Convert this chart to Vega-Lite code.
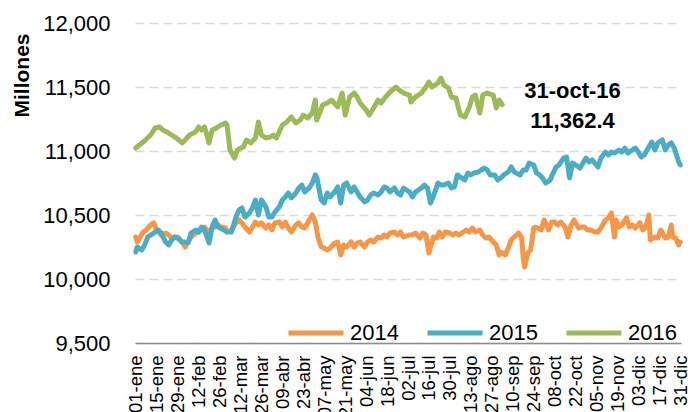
{
"$schema": "https://vega.github.io/schema/vega-lite/v6.json",
"width": 546, "height": 320,
"autosize": {"type": "none"},
"padding": {"left": 135, "top": 23, "right": 10, "bottom": 69},
"background": "white",
"config": {"view": {"stroke": null}, "font": "Liberation Sans", "axis": {"labelOverlap": false, "labelFlush": false, "labelBound": false}},
"layer": [
{
"data": {"values": [
{"serie":"2014","dia":0,"valor":10328},{"serie":"2014","dia":1,"valor":10289},{"serie":"2014","dia":3,"valor":10328},{"serie":"2014","dia":5,"valor":10367},{"serie":"2014","dia":7,"valor":10383},{"serie":"2014","dia":10,"valor":10422},{"serie":"2014","dia":12,"valor":10438},{"serie":"2014","dia":14,"valor":10383},{"serie":"2014","dia":17,"valor":10344},{"serie":"2014","dia":20,"valor":10359},{"serie":"2014","dia":22,"valor":10344},{"serie":"2014","dia":24,"valor":10320},{"serie":"2014","dia":26,"valor":10328},{"serie":"2014","dia":28,"valor":10328},{"serie":"2014","dia":31,"valor":10289},{"serie":"2014","dia":33,"valor":10250},{"serie":"2014","dia":35,"valor":10289},{"serie":"2014","dia":37,"valor":10328},{"serie":"2014","dia":40,"valor":10359},{"serie":"2014","dia":42,"valor":10367},{"serie":"2014","dia":44,"valor":10383},{"serie":"2014","dia":46,"valor":10406},{"serie":"2014","dia":49,"valor":10359},{"serie":"2014","dia":51,"valor":10398},{"serie":"2014","dia":53,"valor":10406},{"serie":"2014","dia":55,"valor":10422},{"serie":"2014","dia":57,"valor":10406},{"serie":"2014","dia":60,"valor":10398},{"serie":"2014","dia":61,"valor":10367},{"serie":"2014","dia":64,"valor":10383},{"serie":"2014","dia":67,"valor":10438},{"serie":"2014","dia":69,"valor":10461},{"serie":"2014","dia":71,"valor":10438},{"serie":"2014","dia":73,"valor":10406},{"serie":"2014","dia":76,"valor":10367},{"serie":"2014","dia":78,"valor":10406},{"serie":"2014","dia":80,"valor":10445},{"serie":"2014","dia":82,"valor":10422},{"serie":"2014","dia":84,"valor":10438},{"serie":"2014","dia":87,"valor":10398},{"serie":"2014","dia":89,"valor":10422},{"serie":"2014","dia":91,"valor":10383},{"serie":"2014","dia":93,"valor":10438},{"serie":"2014","dia":96,"valor":10445},{"serie":"2014","dia":98,"valor":10406},{"serie":"2014","dia":100,"valor":10445},{"serie":"2014","dia":102,"valor":10398},{"serie":"2014","dia":104,"valor":10367},{"serie":"2014","dia":107,"valor":10422},{"serie":"2014","dia":109,"valor":10438},{"serie":"2014","dia":111,"valor":10406},{"serie":"2014","dia":113,"valor":10398},{"serie":"2014","dia":116,"valor":10461},{"serie":"2014","dia":118,"valor":10500},{"serie":"2014","dia":120,"valor":10445},{"serie":"2014","dia":122,"valor":10320},{"serie":"2014","dia":124,"valor":10250},{"serie":"2014","dia":126,"valor":10242},{"serie":"2014","dia":128,"valor":10227},{"serie":"2014","dia":130,"valor":10242},{"serie":"2014","dia":133,"valor":10281},{"serie":"2014","dia":135,"valor":10289},{"serie":"2014","dia":137,"valor":10188},{"serie":"2014","dia":139,"valor":10266},{"serie":"2014","dia":141,"valor":10250},{"serie":"2014","dia":144,"valor":10289},{"serie":"2014","dia":146,"valor":10250},{"serie":"2014","dia":148,"valor":10281},{"serie":"2014","dia":150,"valor":10289},{"serie":"2014","dia":153,"valor":10250},{"serie":"2014","dia":155,"valor":10289},{"serie":"2014","dia":157,"valor":10305},{"serie":"2014","dia":159,"valor":10289},{"serie":"2014","dia":162,"valor":10328},{"serie":"2014","dia":164,"valor":10320},{"serie":"2014","dia":166,"valor":10344},{"serie":"2014","dia":168,"valor":10328},{"serie":"2014","dia":170,"valor":10359},{"serie":"2014","dia":173,"valor":10367},{"serie":"2014","dia":175,"valor":10344},{"serie":"2014","dia":177,"valor":10367},{"serie":"2014","dia":179,"valor":10328},{"serie":"2014","dia":183,"valor":10344},{"serie":"2014","dia":185,"valor":10344},{"serie":"2014","dia":187,"valor":10359},{"serie":"2014","dia":190,"valor":10320},{"serie":"2014","dia":192,"valor":10359},{"serie":"2014","dia":194,"valor":10344},{"serie":"2014","dia":196,"valor":10203},{"serie":"2014","dia":199,"valor":10328},{"serie":"2014","dia":201,"valor":10320},{"serie":"2014","dia":203,"valor":10367},{"serie":"2014","dia":205,"valor":10328},{"serie":"2014","dia":207,"valor":10367},{"serie":"2014","dia":210,"valor":10359},{"serie":"2014","dia":212,"valor":10344},{"serie":"2014","dia":214,"valor":10359},{"serie":"2014","dia":216,"valor":10344},{"serie":"2014","dia":219,"valor":10367},{"serie":"2014","dia":221,"valor":10383},{"serie":"2014","dia":223,"valor":10367},{"serie":"2014","dia":225,"valor":10398},{"serie":"2014","dia":227,"valor":10367},{"serie":"2014","dia":230,"valor":10383},{"serie":"2014","dia":232,"valor":10344},{"serie":"2014","dia":234,"valor":10320},{"serie":"2014","dia":236,"valor":10328},{"serie":"2014","dia":239,"valor":10289},{"serie":"2014","dia":241,"valor":10266},{"serie":"2014","dia":243,"valor":10188},{"serie":"2014","dia":244,"valor":10211},{"serie":"2014","dia":247,"valor":10188},{"serie":"2014","dia":249,"valor":10242},{"serie":"2014","dia":251,"valor":10305},{"serie":"2014","dia":253,"valor":10328},{"serie":"2014","dia":256,"valor":10359},{"serie":"2014","dia":258,"valor":10320},{"serie":"2014","dia":259,"valor":10164},{"serie":"2014","dia":260,"valor":10094},{"serie":"2014","dia":262,"valor":10203},{"serie":"2014","dia":264,"valor":10227},{"serie":"2014","dia":266,"valor":10398},{"serie":"2014","dia":267,"valor":10406},{"serie":"2014","dia":269,"valor":10398},{"serie":"2014","dia":271,"valor":10383},{"serie":"2014","dia":273,"valor":10461},{"serie":"2014","dia":276,"valor":10383},{"serie":"2014","dia":278,"valor":10445},{"serie":"2014","dia":280,"valor":10445},{"serie":"2014","dia":282,"valor":10422},{"serie":"2014","dia":284,"valor":10445},{"serie":"2014","dia":287,"valor":10406},{"serie":"2014","dia":289,"valor":10328},{"serie":"2014","dia":291,"valor":10422},{"serie":"2014","dia":293,"valor":10461},{"serie":"2014","dia":296,"valor":10398},{"serie":"2014","dia":298,"valor":10406},{"serie":"2014","dia":300,"valor":10406},{"serie":"2014","dia":302,"valor":10383},{"serie":"2014","dia":304,"valor":10383},{"serie":"2014","dia":307,"valor":10367},{"serie":"2014","dia":309,"valor":10367},{"serie":"2014","dia":311,"valor":10398},{"serie":"2014","dia":314,"valor":10461},{"serie":"2014","dia":316,"valor":10477},{"serie":"2014","dia":318,"valor":10516},{"serie":"2014","dia":320,"valor":10328},{"serie":"2014","dia":321,"valor":10461},{"serie":"2014","dia":323,"valor":10406},{"serie":"2014","dia":325,"valor":10422},{"serie":"2014","dia":328,"valor":10477},{"serie":"2014","dia":330,"valor":10406},{"serie":"2014","dia":332,"valor":10422},{"serie":"2014","dia":334,"valor":10398},{"serie":"2014","dia":337,"valor":10438},{"serie":"2014","dia":339,"valor":10383},{"serie":"2014","dia":341,"valor":10406},{"serie":"2014","dia":343,"valor":10500},{"serie":"2014","dia":344,"valor":10305},{"serie":"2014","dia":347,"valor":10328},{"serie":"2014","dia":349,"valor":10320},{"serie":"2014","dia":351,"valor":10383},{"serie":"2014","dia":354,"valor":10320},{"serie":"2014","dia":356,"valor":10328},{"serie":"2014","dia":358,"valor":10422},{"serie":"2014","dia":359,"valor":10328},{"serie":"2014","dia":361,"valor":10320},{"serie":"2014","dia":363,"valor":10266},{"serie":"2014","dia":364,"valor":10289},
{"serie":"2015","dia":0,"valor":10211},{"serie":"2015","dia":1,"valor":10250},{"serie":"2015","dia":4,"valor":10227},{"serie":"2015","dia":6,"valor":10266},{"serie":"2015","dia":8,"valor":10328},{"serie":"2015","dia":12,"valor":10359},{"serie":"2015","dia":15,"valor":10383},{"serie":"2015","dia":17,"valor":10359},{"serie":"2015","dia":20,"valor":10289},{"serie":"2015","dia":22,"valor":10266},{"serie":"2015","dia":24,"valor":10305},{"serie":"2015","dia":26,"valor":10328},{"serie":"2015","dia":28,"valor":10320},{"serie":"2015","dia":31,"valor":10289},{"serie":"2015","dia":33,"valor":10289},{"serie":"2015","dia":35,"valor":10281},{"serie":"2015","dia":37,"valor":10359},{"serie":"2015","dia":40,"valor":10383},{"serie":"2015","dia":42,"valor":10367},{"serie":"2015","dia":44,"valor":10406},{"serie":"2015","dia":46,"valor":10383},{"serie":"2015","dia":49,"valor":10281},{"serie":"2015","dia":51,"valor":10406},{"serie":"2015","dia":53,"valor":10461},{"serie":"2015","dia":55,"valor":10406},{"serie":"2015","dia":59,"valor":10383},{"serie":"2015","dia":61,"valor":10367},{"serie":"2015","dia":64,"valor":10367},{"serie":"2015","dia":67,"valor":10484},{"serie":"2015","dia":69,"valor":10539},{"serie":"2015","dia":71,"valor":10555},{"serie":"2015","dia":73,"valor":10484},{"serie":"2015","dia":76,"valor":10516},{"serie":"2015","dia":78,"valor":10555},{"serie":"2015","dia":80,"valor":10617},{"serie":"2015","dia":82,"valor":10500},{"serie":"2015","dia":84,"valor":10617},{"serie":"2015","dia":87,"valor":10563},{"serie":"2015","dia":89,"valor":10484},{"serie":"2015","dia":91,"valor":10484},{"serie":"2015","dia":93,"valor":10523},{"serie":"2015","dia":96,"valor":10563},{"serie":"2015","dia":98,"valor":10617},{"serie":"2015","dia":100,"valor":10641},{"serie":"2015","dia":102,"valor":10672},{"serie":"2015","dia":104,"valor":10633},{"serie":"2015","dia":107,"valor":10672},{"serie":"2015","dia":109,"valor":10711},{"serie":"2015","dia":111,"valor":10734},{"serie":"2015","dia":113,"valor":10680},{"serie":"2015","dia":116,"valor":10711},{"serie":"2015","dia":118,"valor":10750},{"serie":"2015","dia":120,"valor":10813},{"serie":"2015","dia":121,"valor":10797},{"serie":"2015","dia":124,"valor":10617},{"serie":"2015","dia":126,"valor":10594},{"serie":"2015","dia":128,"valor":10672},{"serie":"2015","dia":130,"valor":10641},{"serie":"2015","dia":133,"valor":10680},{"serie":"2015","dia":135,"valor":10719},{"serie":"2015","dia":137,"valor":10594},{"serie":"2015","dia":139,"valor":10734},{"serie":"2015","dia":141,"valor":10750},{"serie":"2015","dia":144,"valor":10680},{"serie":"2015","dia":146,"valor":10719},{"serie":"2015","dia":148,"valor":10680},{"serie":"2015","dia":150,"valor":10641},{"serie":"2015","dia":153,"valor":10602},{"serie":"2015","dia":155,"valor":10617},{"serie":"2015","dia":157,"valor":10656},{"serie":"2015","dia":159,"valor":10672},{"serie":"2015","dia":162,"valor":10656},{"serie":"2015","dia":164,"valor":10680},{"serie":"2015","dia":166,"valor":10719},{"serie":"2015","dia":168,"valor":10711},{"serie":"2015","dia":170,"valor":10680},{"serie":"2015","dia":173,"valor":10711},{"serie":"2015","dia":175,"valor":10672},{"serie":"2015","dia":177,"valor":10656},{"serie":"2015","dia":179,"valor":10711},{"serie":"2015","dia":183,"valor":10680},{"serie":"2015","dia":185,"valor":10641},{"serie":"2015","dia":187,"valor":10680},{"serie":"2015","dia":191,"valor":10711},{"serie":"2015","dia":193,"valor":10734},{"serie":"2015","dia":195,"valor":10711},{"serie":"2015","dia":197,"valor":10594},{"serie":"2015","dia":200,"valor":10680},{"serie":"2015","dia":202,"valor":10750},{"serie":"2015","dia":204,"valor":10734},{"serie":"2015","dia":206,"valor":10734},{"serie":"2015","dia":209,"valor":10750},{"serie":"2015","dia":211,"valor":10711},{"serie":"2015","dia":213,"valor":10719},{"serie":"2015","dia":215,"valor":10813},{"serie":"2015","dia":217,"valor":10797},{"serie":"2015","dia":220,"valor":10773},{"serie":"2015","dia":222,"valor":10828},{"serie":"2015","dia":224,"valor":10813},{"serie":"2015","dia":226,"valor":10828},{"serie":"2015","dia":229,"valor":10836},{"serie":"2015","dia":231,"valor":10852},{"serie":"2015","dia":233,"valor":10867},{"serie":"2015","dia":235,"valor":10852},{"serie":"2015","dia":237,"valor":10813},{"serie":"2015","dia":240,"valor":10813},{"serie":"2015","dia":242,"valor":10773},{"serie":"2015","dia":244,"valor":10789},{"serie":"2015","dia":246,"valor":10813},{"serie":"2015","dia":249,"valor":10836},{"serie":"2015","dia":251,"valor":10875},{"serie":"2015","dia":253,"valor":10836},{"serie":"2015","dia":257,"valor":10813},{"serie":"2015","dia":259,"valor":10852},{"serie":"2015","dia":261,"valor":10852},{"serie":"2015","dia":263,"valor":10906},{"serie":"2015","dia":266,"valor":10891},{"serie":"2015","dia":268,"valor":10828},{"serie":"2015","dia":270,"valor":10813},{"serie":"2015","dia":272,"valor":10789},{"serie":"2015","dia":274,"valor":10750},{"serie":"2015","dia":277,"valor":10773},{"serie":"2015","dia":279,"valor":10828},{"serie":"2015","dia":281,"valor":10875},{"serie":"2015","dia":283,"valor":10891},{"serie":"2015","dia":286,"valor":10945},{"serie":"2015","dia":288,"valor":10953},{"serie":"2015","dia":290,"valor":10789},{"serie":"2015","dia":292,"valor":10906},{"serie":"2015","dia":294,"valor":10891},{"serie":"2015","dia":297,"valor":10867},{"serie":"2015","dia":299,"valor":10906},{"serie":"2015","dia":301,"valor":10945},{"serie":"2015","dia":303,"valor":10914},{"serie":"2015","dia":305,"valor":10930},{"serie":"2015","dia":309,"valor":10875},{"serie":"2015","dia":311,"valor":10945},{"serie":"2015","dia":314,"valor":10992},{"serie":"2015","dia":316,"valor":10969},{"serie":"2015","dia":318,"valor":10992},{"serie":"2015","dia":320,"valor":10984},{"serie":"2015","dia":323,"valor":11008},{"serie":"2015","dia":325,"valor":10992},{"serie":"2015","dia":327,"valor":11023},{"serie":"2015","dia":329,"valor":10984},{"serie":"2015","dia":332,"valor":11008},{"serie":"2015","dia":334,"valor":11023},{"serie":"2015","dia":336,"valor":10992},{"serie":"2015","dia":338,"valor":10953},{"serie":"2015","dia":340,"valor":10969},{"serie":"2015","dia":343,"valor":11031},{"serie":"2015","dia":345,"valor":11070},{"serie":"2015","dia":347,"valor":11008},{"serie":"2015","dia":349,"valor":11063},{"serie":"2015","dia":352,"valor":11086},{"serie":"2015","dia":354,"valor":11008},{"serie":"2015","dia":356,"valor":11047},{"serie":"2015","dia":358,"valor":11063},{"serie":"2015","dia":360,"valor":11023},{"serie":"2015","dia":363,"valor":10914},{"serie":"2015","dia":364,"valor":10891},
{"serie":"2016","dia":0,"valor":11023},{"serie":"2016","dia":5,"valor":11070},{"serie":"2016","dia":10,"valor":11125},{"serie":"2016","dia":13,"valor":11180},{"serie":"2016","dia":16,"valor":11188},{"serie":"2016","dia":18,"valor":11164},{"serie":"2016","dia":21,"valor":11148},{"serie":"2016","dia":24,"valor":11125},{"serie":"2016","dia":27,"valor":11102},{"serie":"2016","dia":31,"valor":11063},{"serie":"2016","dia":33,"valor":11086},{"serie":"2016","dia":36,"valor":11125},{"serie":"2016","dia":40,"valor":11148},{"serie":"2016","dia":42,"valor":11188},{"serie":"2016","dia":44,"valor":11164},{"serie":"2016","dia":46,"valor":11188},{"serie":"2016","dia":49,"valor":11063},{"serie":"2016","dia":51,"valor":11164},{"serie":"2016","dia":54,"valor":11180},{"serie":"2016","dia":57,"valor":11203},{"serie":"2016","dia":60,"valor":11219},{"serie":"2016","dia":61,"valor":11203},{"serie":"2016","dia":63,"valor":11008},{"serie":"2016","dia":66,"valor":10945},{"serie":"2016","dia":68,"valor":11008},{"serie":"2016","dia":70,"valor":11023},{"serie":"2016","dia":72,"valor":11031},{"serie":"2016","dia":74,"valor":11086},{"serie":"2016","dia":77,"valor":11063},{"serie":"2016","dia":80,"valor":11102},{"serie":"2016","dia":82,"valor":11227},{"serie":"2016","dia":84,"valor":11125},{"serie":"2016","dia":87,"valor":11102},{"serie":"2016","dia":90,"valor":11109},{"serie":"2016","dia":92,"valor":11125},{"serie":"2016","dia":94,"valor":11102},{"serie":"2016","dia":98,"valor":11203},{"serie":"2016","dia":101,"valor":11227},{"serie":"2016","dia":104,"valor":11266},{"serie":"2016","dia":107,"valor":11219},{"serie":"2016","dia":110,"valor":11242},{"serie":"2016","dia":112,"valor":11281},{"serie":"2016","dia":115,"valor":11258},{"serie":"2016","dia":118,"valor":11297},{"serie":"2016","dia":120,"valor":11398},{"serie":"2016","dia":121,"valor":11242},{"serie":"2016","dia":125,"valor":11359},{"serie":"2016","dia":128,"valor":11375},{"serie":"2016","dia":131,"valor":11398},{"serie":"2016","dia":135,"valor":11344},{"serie":"2016","dia":138,"valor":11453},{"serie":"2016","dia":140,"valor":11281},{"serie":"2016","dia":143,"valor":11422},{"serie":"2016","dia":146,"valor":11453},{"serie":"2016","dia":148,"valor":11422},{"serie":"2016","dia":150,"valor":11375},{"serie":"2016","dia":154,"valor":11320},{"serie":"2016","dia":156,"valor":11281},{"serie":"2016","dia":159,"valor":11336},{"serie":"2016","dia":162,"valor":11398},{"serie":"2016","dia":164,"valor":11375},{"serie":"2016","dia":167,"valor":11422},{"serie":"2016","dia":170,"valor":11461},{"serie":"2016","dia":174,"valor":11500},{"serie":"2016","dia":176,"valor":11477},{"serie":"2016","dia":179,"valor":11453},{"serie":"2016","dia":183,"valor":11437},{"serie":"2016","dia":184,"valor":11383},{"serie":"2016","dia":187,"valor":11422},{"serie":"2016","dia":191,"valor":11453},{"serie":"2016","dia":194,"valor":11500},{"serie":"2016","dia":196,"valor":11539},{"serie":"2016","dia":198,"valor":11500},{"serie":"2016","dia":202,"valor":11531},{"serie":"2016","dia":204,"valor":11570},{"serie":"2016","dia":206,"valor":11516},{"serie":"2016","dia":209,"valor":11492},{"serie":"2016","dia":211,"valor":11422},{"serie":"2016","dia":214,"valor":11414},{"serie":"2016","dia":217,"valor":11281},{"serie":"2016","dia":220,"valor":11266},{"serie":"2016","dia":223,"valor":11344},{"serie":"2016","dia":225,"valor":11422},{"serie":"2016","dia":227,"valor":11437},{"serie":"2016","dia":230,"valor":11297},{"serie":"2016","dia":232,"valor":11437},{"serie":"2016","dia":235,"valor":11453},{"serie":"2016","dia":239,"valor":11437},{"serie":"2016","dia":241,"valor":11336},{"serie":"2016","dia":243,"valor":11398},{"serie":"2016","dia":245,"valor":11362.4}
]},
"mark": {"type": "line", "strokeWidth": 5, "strokeJoin": "round", "strokeCap": "round"},
"encoding": {
"x": {"field": "dia", "type": "quantitative", "scale": {"domain": [-0.5, 364.5], "nice": false, "zero": false},
"axis": {"values": [0,14,28,42,56,70,84,98,112,126,140,154,168,182,196,210,224,238,252,266,280,294,308,322,336,350,364], "tickCount": 40,
"labelExpr": "['01-ene','15-ene','29-ene','12-feb','26-feb','12-mar','26-mar','09-abr','23-abr','07-may','21-may','04-jun','18-jun','02-jul','16-jul','30-jul','13-ago','27-ago','10-sep','24-sep','08-oct','22-oct','05-nov','19-nov','03-dic','17-dic','31-dic'][round(datum.value/14)]",
"labelAngle": -90, "labelAlign": "right", "labelBaseline": "middle", "labelFontSize": 18.5, "labelColor": "black", "labelPadding": 12, "ticks": false, "grid": false, "domainColor": "#8c8c8c", "domainWidth": 1.5, "title": null, "labelOverlap": false, "labelFlush": false, "labelBound": false}},
"y": {"field": "valor", "type": "quantitative", "scale": {"domain": [9500, 12000], "nice": false, "zero": false},
"axis": {"values": [9500,10000,10500,11000,11500,12000], "tickCount": 10, "format": ",.0f", "domain": false, "ticks": false, "gridDash": [9,5], "gridColor": "#d9d9d9", "gridWidth": 1.5, "labelFontSize": 22, "labelPadding": 25, "labelColor": "black", "title": "Millones", "titleFontSize": 21, "titleFontWeight": "bold", "titleColor": "black", "titleX": -113, "titleY": 52, "titleAlign": "center", "titleBaseline": "middle", "titleAngle": -90, "labelOverlap": false}},
"color": {"field": "serie", "type": "nominal", "scale": {"domain": ["2014","2015","2016"], "range": ["#F79646","#4BACC6","#9BBB59"]},
"legend": {"orient": "none", "legendX": 151, "legendY": 280, "direction": "horizontal", "title": null, "symbolType": "stroke", "symbolSize": 3025, "symbolStrokeWidth": 5, "labelFontSize": 22, "labelColor": "black", "labelOffset": 4, "columnPadding": 18, "padding": 0}}
}
},
{
"data": {"values": [{"dia": 292, "valor": 11469, "texto": "31-oct-16"}, {"dia": 292, "valor": 11234, "texto": "11,362.4"}]},
"mark": {"type": "text", "fontSize": 22, "fontWeight": "bold", "color": "black", "align": "center", "baseline": "middle"},
"encoding": {
"x": {"field": "dia", "type": "quantitative"},
"y": {"field": "valor", "type": "quantitative"},
"text": {"field": "texto"}
}
}
]
}
